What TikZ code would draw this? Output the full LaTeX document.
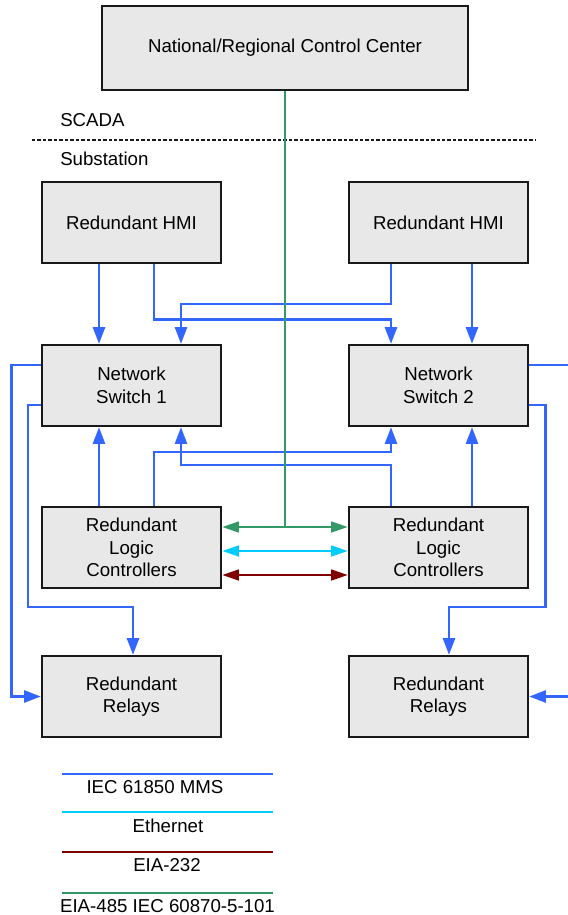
\documentclass[tikz,border=0pt]{standalone}
\usepackage{fontspec}
\setmainfont{Liberation Sans}
\usetikzlibrary{arrows.meta,calc}
\definecolor{mmsblue}{RGB}{51,102,255}
\definecolor{ethcyan}{RGB}{0,204,255}
\definecolor{rsred}{RGB}{128,0,0}
\definecolor{rsgreen}{RGB}{51,153,102}
\definecolor{boxgray}{RGB}{232,232,232}
\tikzset{
    unit/.style={draw=black!90, line width=1.8pt, fill=boxgray, align=center, inner sep=0pt,
        minimum width=134.25pt, minimum height=60.75pt, font=\fontsize{14}{16.8}\selectfont},
    lbl/.style={font=\fontsize{14}{16.8}\selectfont, inner sep=0pt},
    tip/.style={-{Triangle[length=12.5pt,width=9pt]}},
    dtip/.style={{Triangle[length=12.5pt,width=8pt]}-{Triangle[length=12.5pt,width=8pt]}},
    mms/.style={mmsblue, line width=1.9pt},
}
\begin{document}
\begin{tikzpicture}[x=0.75pt, y=-0.75pt]
        \useasboundingbox (0,0) rectangle (568,915);
        \node[unit, minimum width=274.5pt, minimum height=63pt] (nrcc) at (285,48) {National/Regional Control Center};
        \node[lbl, anchor=west] (scada) at (60,120) {SCADA};
        \node[lbl, anchor=west] (subst) at (60,159) {Substation};
        \draw[black!90, line width=1.3pt, dash pattern=on 2.6pt off 1.5pt] (32,140) -- (535,140);
        \foreach \side/\x in {A/131.5, B/438.5} {
                \node[unit] (hmi\side) at (\x,222.5) {Redundant HMI};
                \node[unit] (lc\side) at (\x,547.5) {Redundant\\Logic\\Controllers};
                \node[unit] (rl\side) at (\x,696.5) {Redundant\\Relays};
            }
        \node[unit] (swA) at (131.5,385.5) {Network\\Switch 1};
        \node[unit] (swB) at (438.5,385.5) {Network\\Switch 2};
        \coordinate (swBout) at (568,365);
        \coordinate (rlBin) at (568,696.5);
        \draw[mms, tip] ($(hmiA.south)+(-32.5,0)$) -- ($(swA.north)+(-32.5,0)$);
        \draw[mms, tip] ($(hmiA.south)+(22.5,0)$) -- ++(0,55.5) -| ($(swB.north)+(-47.5,0)$);
        \draw[mms, tip] ($(hmiB.south)+(-47.5,0)$) -- ++(0,40) -| ($(swA.north)+(49.5,0)$);
        \draw[mms, tip] ($(hmiB.south)+(33.5,0)$) -- ($(swB.north)+(33.5,0)$);
        \draw[mms, tip] ($(lcA.north)+(-32.5,0)$) -- ($(swA.south)+(-32.5,0)$);
        \draw[mms, tip] ($(lcA.north)+(22.5,0)$) -- ++(0,-54) -| ($(swB.south)+(-47.5,0)$);
        \draw[mms, tip] ($(lcB.north)+(-47.5,0)$) -- ++(0,-41) -| ($(swA.south)+(49.5,0)$);
        \draw[mms, tip] ($(lcB.north)+(33.5,0)$) -- ($(swB.south)+(33.5,0)$);
        \draw[mms, tip] ($(swA.west)+(0,-20.5)$) -- ++(-29.5,0) |- (rlA.west);
        \draw[mms, tip] ($(swA.west)+(0,19.5)$) -- ++(-13,0) |- ($(rlA.north)+(1.5,-48)$) -- ($(rlA.north)+(1.5,0)$);
        \draw[mms] ($(swB.east)+(0,-20.5)$) -- (swBout);
        \draw[mms, tip] ($(swB.east)+(0,19.5)$) -- ++(16.5,0) |- ($(rlB.north)+(10.5,-48)$) -- ($(rlB.north)+(10.5,0)$);
        \draw[mms, tip] (rlBin) -- (rlB.east);
        \draw[rsgreen, line width=1.9pt, dtip] ($(lcA.east)+(0,-20.5)$) coordinate (gA) -- ($(lcB.west)+(0,-20.5)$);
        \draw[rsgreen, line width=1.4pt] (nrcc.south) -- (nrcc.south |- gA);
        \draw[ethcyan, line width=1.9pt, dtip] ($(lcA.east)+(0,3.5)$) -- ($(lcB.west)+(0,3.5)$);
        \draw[rsred, line width=1.9pt, dtip] ($(lcA.east)+(0,27.5)$) -- ($(lcB.west)+(0,27.5)$);
        \foreach \yl/\col/\xt/\txt in {774/mmsblue/155/IEC 61850 MMS, 812/ethcyan/168/Ethernet, 852/rsred/167/EIA-232, 893/rsgreen/167.5/EIA-485 IEC 60870-5-101} {
                \draw[\col, line width=1.9pt] (62,\yl) -- (273,\yl);
                \node[lbl] (leg\yl) at (\xt,\yl+13.5) {\txt};
            }
    \end{tikzpicture}
\end{document}
